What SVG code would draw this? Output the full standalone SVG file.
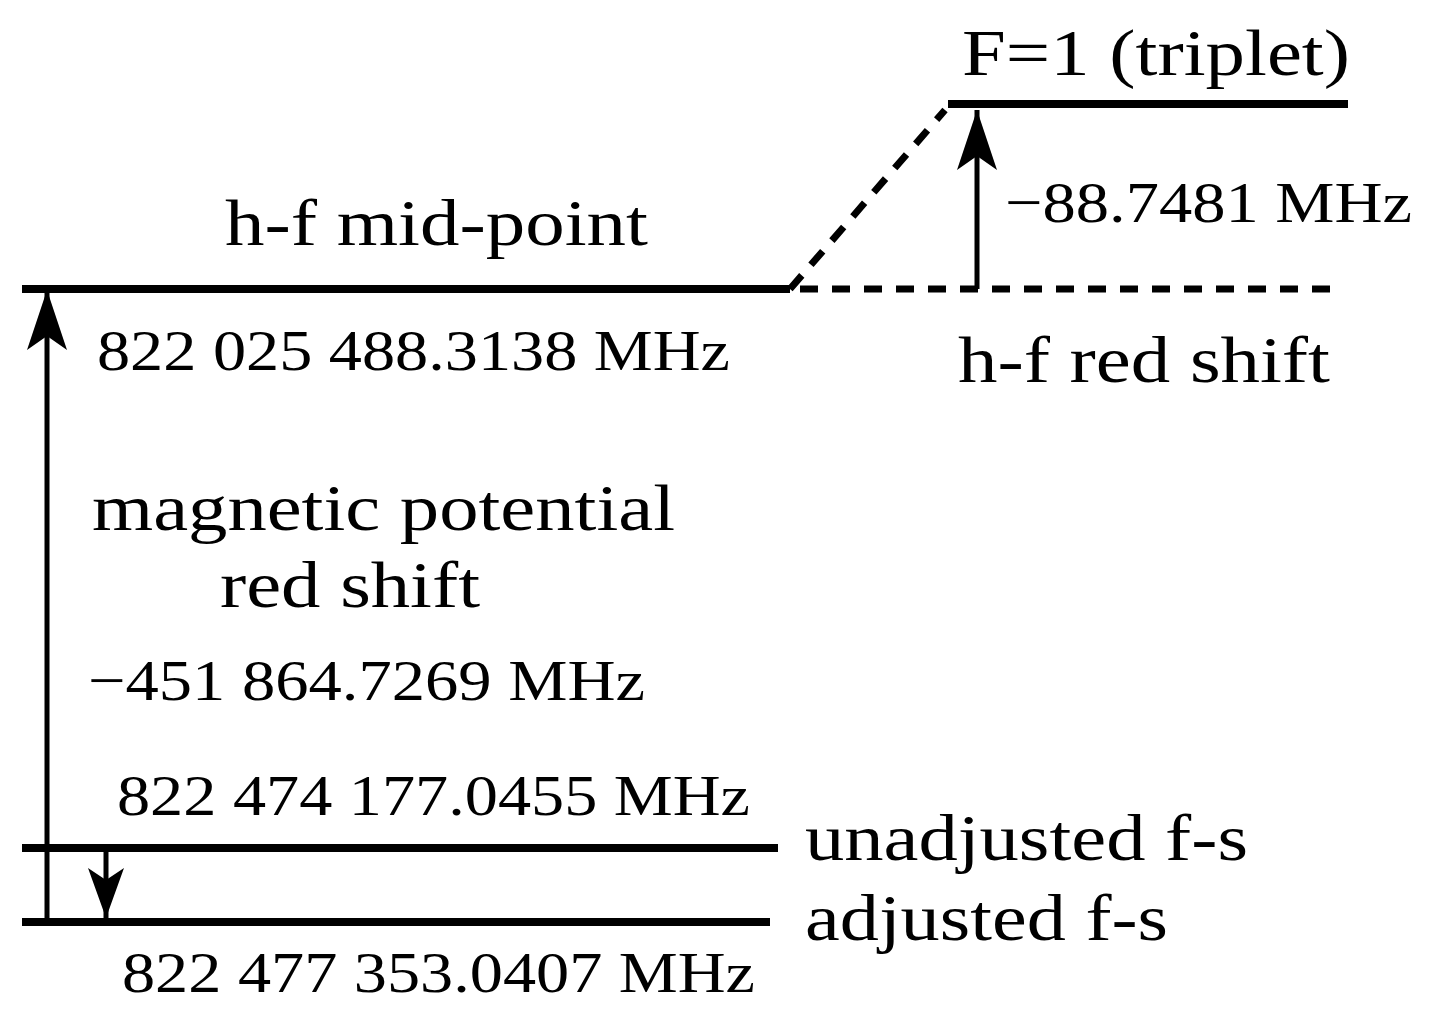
<svg xmlns="http://www.w3.org/2000/svg" width="1430" height="1018" viewBox="0 0 1430 1018">
<style>
.l{stroke:#000;stroke-width:8;fill:none}
.a{stroke:#000;stroke-width:5;fill:none}
.d{stroke:#000;stroke-width:7;fill:none;stroke-dasharray:18 14}
text{font-family:"Liberation Serif",serif;fill:#000}
.b{font-size:66px}
.s{font-size:58px}
</style>
<defs>
<marker id="big" viewBox="0 0 60 40" refX="60" refY="20" markerWidth="60" markerHeight="40" markerUnits="userSpaceOnUse" orient="auto"><path d="M0,0 L60,20 L0,40 L14,20 Z" fill="#000"/></marker>
<marker id="sm" viewBox="0 0 50 36" refX="50" refY="18" markerWidth="50" markerHeight="36" markerUnits="userSpaceOnUse" orient="auto"><path d="M0,0 L50,18 L0,36 L12,18 Z" fill="#000"/></marker>
</defs>
<g id="levels">
<line id="f1" class="l" x1="948" y1="104" x2="1348" y2="104"/>
<line id="mid" class="l" x1="22" y1="289" x2="790" y2="289"/>
<line id="unadj" class="l" x1="22" y1="848" x2="778" y2="848"/>
<line id="adj" class="l" x1="22" y1="922" x2="770" y2="922"/>
</g>
<g id="connectors">
<line class="d" x1="800" y1="289" x2="1335" y2="289"/>
<line class="d" x1="790" y1="289" x2="945" y2="110"/>
<line class="a" x1="977" y1="289" x2="977" y2="110" stroke-width="7" marker-end="url(#big)"/>
<line class="a" x1="47" y1="922" x2="47" y2="290" marker-end="url(#big)"/>
<line class="a" x1="106" y1="850" x2="106" y2="918" marker-end="url(#sm)"/>
</g>
<g id="labels" lengthAdjust="spacingAndGlyphs">
<text class="b" x="962" y="75" textLength="388" lengthAdjust="spacingAndGlyphs">F=1 (triplet)</text>
<text class="s" x="1005" y="222" textLength="407" lengthAdjust="spacingAndGlyphs">−88.7481 MHz</text>
<text class="b" x="225" y="245" textLength="423" lengthAdjust="spacingAndGlyphs">h-f mid-point</text>
<text class="s" x="97" y="370" textLength="633" lengthAdjust="spacingAndGlyphs">822 025 488.3138 MHz</text>
<text class="b" x="958" y="382" textLength="372" lengthAdjust="spacingAndGlyphs">h-f red shift</text>
<text class="b" x="92" y="530" textLength="583" lengthAdjust="spacingAndGlyphs">magnetic potential</text>
<text class="b" x="220" y="607" textLength="260" lengthAdjust="spacingAndGlyphs">red shift</text>
<text class="s" x="88" y="700" textLength="557" lengthAdjust="spacingAndGlyphs">−451 864.7269 MHz</text>
<text class="s" x="117" y="815" textLength="633" lengthAdjust="spacingAndGlyphs">822 474 177.0455 MHz</text>
<text class="b" x="805" y="860" textLength="443" lengthAdjust="spacingAndGlyphs">unadjusted f-s</text>
<text class="b" x="805" y="940" textLength="363" lengthAdjust="spacingAndGlyphs">adjusted f-s</text>
<text class="s" x="122" y="992" textLength="633" lengthAdjust="spacingAndGlyphs">822 477 353.0407 MHz</text>
</g>
</svg>
